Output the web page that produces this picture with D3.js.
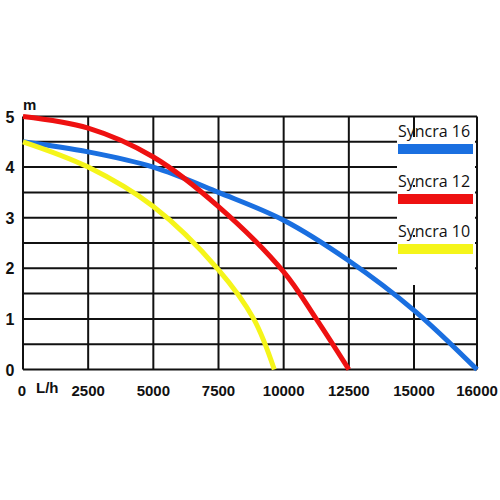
<!DOCTYPE html>
<html>
<head>
<meta charset="UTF-8">
<script src="https://d3js.org/d3.v7.min.js"></script>
<style>
  body { margin: 0; background: #fff; }
</style>
</head>
<body>
<svg width="500" height="500"></svg>
<script>
  // flow (L/h) vs head (m)
  const xTicks = [0, 2500, 5000, 7500, 10000, 12500, 15000, 16000];
  const yTicks = [0, 1, 2, 3, 4, 5];
  const yGrid = [0, 0.5, 1, 1.5, 2, 2.5, 3, 3.5, 4, 4.5, 5];

  const syncra16 = [[0, 4.5], [2500, 4.3], [5000, 4.0], [7500, 3.5], [10000, 2.95], [12500, 2.15], [15000, 1.17], [16000, 0]];
  const syncra12 = [[0, 5.0], [2500, 4.77], [5000, 4.2], [7500, 3.22], [10000, 1.93], [11250, 1.0], [12500, 0]];
  const syncra10 = [[0, 4.5], [2500, 4.0], [5000, 3.22], [7500, 1.97], [8850, 1.0], [9640, 0]];

  const series = [
    { name: "Syncra 16", color: "#1a6fe0", data: syncra16 },
    { name: "Syncra 12", color: "#ee1111", data: syncra12 },
    { name: "Syncra 10", color: "#f5f51a", data: syncra10 }
  ];

  const svg = d3.select("svg");

  // last grid column is labelled 16000 but is a narrower step
  const x = d3.scaleLinear().domain([0, 15000, 16000]).range([23, 414, 477]);
  const y = d3.scaleLinear().domain([0, 5]).range([369.5, 116.5]);

  // grid
  svg.selectAll("line.v").data(xTicks).enter().append("line")
    .attr("x1", d => x(d)).attr("x2", d => x(d))
    .attr("y1", y(0)).attr("y2", y(5))
    .attr("stroke", "#111").attr("stroke-width", 2);
  svg.selectAll("line.h").data(yGrid).enter().append("line")
    .attr("x1", x(0)).attr("x2", x(16000))
    .attr("y1", d => y(d)).attr("y2", d => y(d))
    .attr("stroke", "#111").attr("stroke-width", 2);

  // curves
  const line = d3.line().x(d => x(d[0])).y(d => y(d[1])).curve(d3.curveCatmullRom.alpha(0.5));
  svg.selectAll("path.c").data(series).enter().append("path")
    .attr("d", d => line(d.data))
    .attr("fill", "none")
    .attr("stroke", d => d.color)
    .attr("stroke-width", 5);

  // axis labels
  const bold = "'Liberation Sans', Arial, sans-serif";
  svg.selectAll("text.yl").data(yTicks).enter().append("text")
    .attr("x", 10).attr("y", d => y(d) + 6)
    .attr("text-anchor", "middle")
    .attr("font-family", bold).attr("font-weight", "bold").attr("font-size", 16)
    .attr("fill", "#111").text(d => d);
  svg.append("text").attr("x", 23).attr("y", 110)
    .attr("font-family", bold).attr("font-weight", "bold").attr("font-size", 15)
    .attr("fill", "#111").text("m");

  svg.selectAll("text.xl").data(xTicks).enter().append("text")
    .attr("x", d => x(d) + (d === 0 ? -1 : 0)).attr("y", 396)
    .attr("text-anchor", "middle")
    .attr("font-family", bold).attr("font-weight", "bold").attr("font-size", 15)
    .attr("fill", "#111").text(d => d);
  svg.append("text").attr("x", 36).attr("y", 393)
    .attr("font-family", bold).attr("font-weight", "bold").attr("font-size", 15)
    .attr("fill", "#111").text("L/h");

  // legend
  const lg = svg.selectAll("g.lg").data(series).enter().append("g")
    .attr("transform", (d, i) => `translate(397, ${137 + i * 50})`);
  lg.append("rect").attr("x", 0).attr("y", 0).attr("width", 78).attr("height", 48)
    .attr("fill", "#fff");
  lg.append("text").attr("x", 1).attr("y", -0.5)
    .attr("font-family", "'Open Sans', sans-serif").attr("font-size", 16)
    .attr("fill", "#111").text(d => d.name);
  lg.append("rect").attr("x", 1).attr("y", 7).attr("width", 75).attr("height", 10)
    .attr("fill", d => d.color);
</script>
</body>
</html>
